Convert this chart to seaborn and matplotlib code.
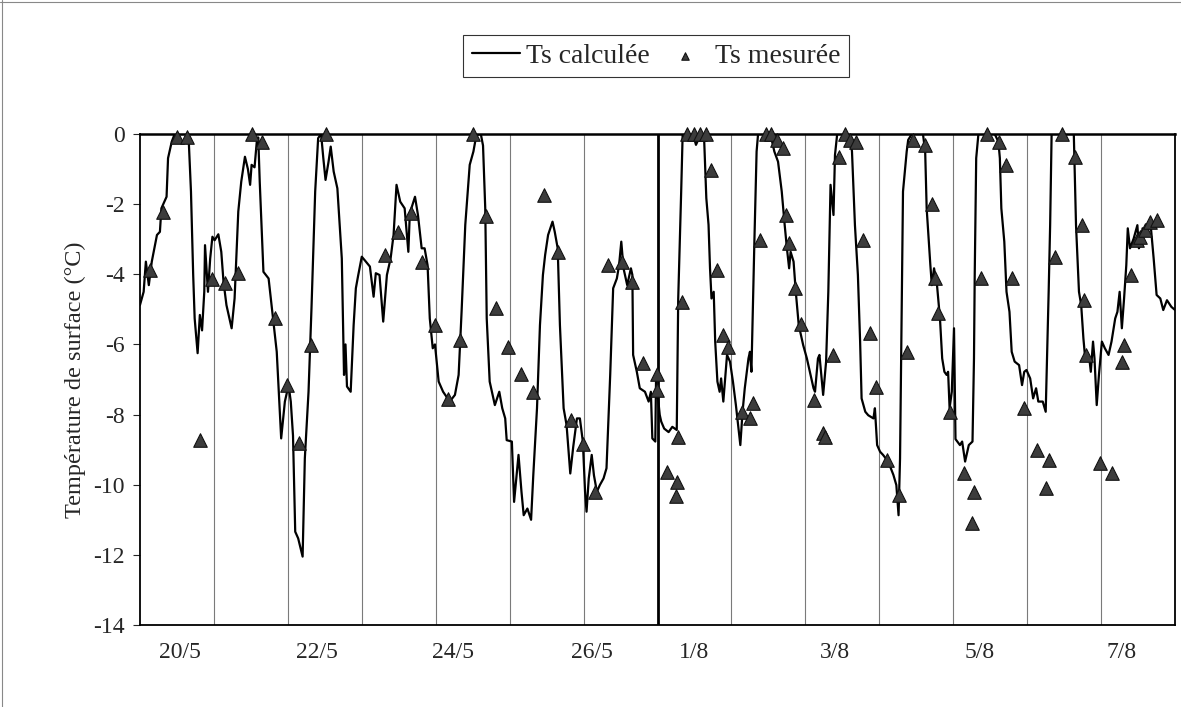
import numpy as np
import pandas as pd
import matplotlib.pyplot as plt
from matplotlib.lines import Line2D
import seaborn as sns

# ==========================
# Data - x in days from 20/5 00h, 1/8 starts at day 7
# ==========================
calc_day = [0.00, 0.05, 0.08, 0.12, 0.16, 0.23, 0.27, 0.29, 0.36, 0.38, 0.43, 0.47, 0.63, 0.66, 0.69,
            0.72, 0.74, 0.78, 0.81, 0.84, 0.87, 0.88, 0.92, 0.95, 0.98, 1.01, 1.06, 1.10, 1.13, 1.17,
            1.24, 1.28, 1.33, 1.37, 1.42, 1.46, 1.49, 1.51, 1.55, 1.58, 1.60, 1.62, 1.67, 1.74, 1.80,
            1.85, 1.91, 1.96, 2.01, 2.04, 2.07, 2.10, 2.14, 2.20, 2.23, 2.28, 2.32, 2.37, 2.41, 2.45,
            2.48, 2.51, 2.55, 2.58, 2.62, 2.67, 2.73, 2.76, 2.78, 2.80, 2.85, 2.87, 2.89, 2.92, 2.95,
            3.00, 3.04, 3.11, 3.16, 3.19, 3.24, 3.29, 3.34, 3.39, 3.43, 3.47, 3.52, 3.58, 3.63, 3.65,
            3.72, 3.76, 3.81, 3.85, 3.89, 3.92, 3.96, 3.99, 4.04, 4.10, 4.19, 4.26, 4.31, 4.35, 4.40,
            4.46, 4.51, 4.55, 4.61, 4.64, 4.67, 4.69, 4.73, 4.80, 4.86, 4.90, 4.94, 4.96, 5.03, 5.06,
            5.12, 5.16, 5.19, 5.24, 5.29, 5.32, 5.37, 5.41, 5.45, 5.48, 5.52, 5.58, 5.61, 5.65, 5.68,
            5.73, 5.77, 5.82, 5.86, 5.91, 5.95, 5.99, 6.02, 6.04, 6.07, 6.11, 6.14, 6.18, 6.22, 6.27,
            6.31, 6.36, 6.40, 6.45, 6.48, 6.51, 6.54, 6.59, 6.64, 6.66, 6.67, 6.72, 6.76, 6.83, 6.88,
            6.91, 6.93, 6.97, 6.98, 7.03, 7.05, 7.09, 7.15, 7.20, 7.26, 7.28, 7.32, 7.34, 7.48, 7.52,
            7.56, 7.63, 7.66, 7.69, 7.71, 7.73, 7.76, 7.78, 7.81, 7.84, 7.86, 7.89, 7.94, 7.98, 8.02,
            8.06, 8.12, 8.15, 8.18, 8.23, 8.25, 8.27, 8.31, 8.34, 8.36, 8.52, 8.55, 8.58, 8.63, 8.68,
            8.72, 8.75, 8.78, 8.80, 8.84, 8.87, 8.91, 8.94, 8.97, 9.02, 9.06, 9.11, 9.13, 9.17, 9.19,
            9.24, 9.28, 9.31, 9.34, 9.38, 9.40, 9.43, 9.60, 9.63, 9.67, 9.71, 9.74, 9.76, 9.81, 9.85,
            9.92, 9.94, 9.97, 10.01, 10.05, 10.12, 10.19, 10.23, 10.26, 10.28, 10.30, 10.32, 10.37, 10.39, 10.44,
            10.59, 10.62, 10.64, 10.69, 10.71, 10.74, 10.78, 10.82, 10.85, 10.88, 10.91, 10.93, 10.95, 10.98, 11.01,
            11.03, 11.09, 11.12, 11.16, 11.21, 11.26, 11.28, 11.29, 11.31, 11.34, 11.56, 11.61, 11.63, 11.65, 11.69,
            11.72, 11.76, 11.79, 11.83, 11.89, 11.93, 11.96, 11.99, 12.04, 12.08, 12.12, 12.15, 12.21, 12.25, 12.29,
            12.31, 12.33, 12.63, 12.64, 12.66, 12.70, 12.73, 12.76, 12.78, 12.84, 12.86, 12.89, 12.91, 12.94, 12.97,
            13.01, 13.05, 13.10, 13.14, 13.19, 13.22, 13.25, 13.28, 13.31, 13.34, 13.36, 13.39, 13.44, 13.49, 13.51,
            13.53, 13.56, 13.62, 13.67, 13.71, 13.75, 13.80, 13.84, 13.89, 13.95, 14.00]
calc_temp = [-4.88, -4.50, -3.64, -4.31, -3.64, -2.88, -2.79, -2.12, -1.79, -0.69, -0.22, 0.00, 0.00, -0.19, -1.64,
             -4.02, -5.26, -6.25, -5.16, -5.60, -4.50, -3.17, -4.50, -3.55, -2.93, -3.03, -2.86, -3.36, -4.21, -4.88,
             -5.54, -4.69, -2.21, -1.36, -0.65, -1.00, -1.45, -0.88, -0.95, -0.22, -0.10, -1.36, -3.93, -4.12, -5.26,
             -6.21, -8.68, -7.63, -7.16, -7.63, -8.60, -11.34, -11.53, -12.05, -9.25, -7.35, -4.97, -1.64, -0.12, 0.00,
             -0.69, -1.31, -0.80, -0.36, -1.07, -1.55, -3.55, -6.87, -6.00, -7.20, -7.35, -6.40, -5.45, -4.40, -4.05,
             -3.50, -3.60, -3.78, -4.64, -3.97, -4.02, -5.35, -4.02, -3.55, -2.88, -1.45, -1.93, -2.12, -3.36, -2.26,
             -1.79, -2.31, -3.26, -3.26, -3.74, -5.26, -6.11, -6.00, -7.06, -7.35, -7.63, -7.44, -6.87, -5.07, -2.59,
             -0.88, -0.50, -0.03, 0.00, -0.33, -2.12, -5.26, -7.06, -7.73, -7.35, -7.82, -8.11, -8.73, -8.77, -10.49,
             -9.15, -10.20, -10.87, -10.68, -11.00, -9.72, -7.82, -5.45, -4.02, -3.45, -2.88, -2.50, -2.79, -3.26, -5.45,
             -7.82, -8.30, -9.68, -8.92, -8.11, -8.11, -8.77, -10.20, -10.77, -9.82, -9.15, -9.73, -10.20, -10.01, -9.82,
             -9.53, -6.87, -4.40, -4.12, -3.74, -3.07, -3.83, -4.31, -3.83, -4.02, -6.30, -6.78, -7.25, -7.35, -7.63,
             -7.35, -8.68, -8.77, -6.97, -8.01, -8.20, -8.40, -8.50, -8.35, -8.44, -4.69, -1.64, 0.00, 0.00, -0.31,
             -0.12, -0.12, -1.83, -2.59, -3.83, -4.69, -4.50, -5.92, -7.06, -7.35, -6.97, -7.63, -6.30, -6.49, -7.06,
             -7.73, -8.87, -7.92, -7.25, -6.40, -6.21, -6.78, -3.07, -0.50, 0.00, 0.00, -0.22, -0.50, -0.79, -1.64,
             -2.60, -3.26, -3.83, -3.36, -3.64, -4.50, -5.45, -5.73, -6.02, -6.40, -6.78, -7.25, -7.35, -6.40, -6.30,
             -7.44, -6.49, -4.50, -1.45, -2.31, -0.60, 0.00, 0.00, -0.50, -2.60, -4.02, -5.92, -7.54, -7.92, -8.02,
             -8.11, -7.82, -8.87, -9.06, -9.15, -9.34, -9.72, -10.01, -10.87, -9.25, -5.45, -1.64, -0.50, -0.17, 0.00,
             0.00, -0.50, -2.12, -3.74, -4.31, -3.83, -4.31, -5.26, -6.40, -6.78, -6.87, -6.78, -7.82, -7.35, -5.54,
             -8.70, -8.87, -8.77, -9.34, -8.87, -8.77, -6.40, -4.02, -0.69, 0.00, 0.00, -0.22, -0.69, -2.12, -3.07,
             -4.50, -5.07, -6.21, -6.49, -6.59, -7.16, -6.78, -6.73, -6.97, -7.54, -7.25, -7.63, -7.63, -7.92, -4.50,
             -2.60, 0.00, 0.00, -0.88, -2.60, -4.50, -4.88, -5.83, -6.30, -6.40, -6.78, -5.92, -6.40, -7.73, -6.87,
             -5.92, -6.11, -6.30, -5.92, -5.26, -5.07, -4.50, -5.54, -4.69, -3.74, -2.69, -3.26, -2.98, -2.60, -3.26,
             -3.17, -2.69, -2.79, -2.60, -3.55, -4.59, -4.69, -5.02, -4.74, -4.93, -5.02]

mes_day = [0.14, 0.31, 0.50, 0.64, 0.81, 0.98, 1.15, 1.32, 1.52, 1.65, 1.82, 1.99, 2.15, 2.32, 2.52,
           3.32, 3.49, 3.66, 3.81, 3.99, 4.16, 4.33, 4.50, 4.68, 4.82, 4.98, 5.15, 5.31, 5.47, 5.66,
           5.83, 5.99, 6.15, 6.33, 6.52, 6.65, 6.81, 6.99, 6.99, 7.13, 7.27, 7.25, 7.28, 7.33, 7.40,
           7.49, 7.58, 7.65, 7.72, 7.80, 7.88, 7.95, 8.14, 8.25, 8.29, 8.38, 8.47, 8.54, 8.62, 8.70,
           8.74, 8.78, 8.86, 8.94, 9.11, 9.24, 9.26, 9.37, 9.45, 9.54, 9.60, 9.69, 9.78, 9.87, 9.96,
           10.11, 10.26, 10.37, 10.46, 10.62, 10.71, 10.75, 10.79, 10.96, 11.14, 11.28, 11.25, 11.38, 11.46, 11.62,
           11.71, 11.79, 11.96, 12.13, 12.30, 12.25, 12.38, 12.47, 12.64, 12.74, 12.77, 12.80, 12.99, 13.15, 13.31,
           13.28, 13.41, 13.48, 13.52, 13.59, 13.66, 13.75]
mes_temp = [-3.88, -2.23, -0.10, -0.10, -8.73, -4.13, -4.26, -3.95, 0.00, -0.22, -5.26, -7.16, -8.82, -6.02, 0.00,
            -3.45, -2.79, -2.26, -3.64, -5.45, -7.56, -5.87, 0.00, -2.33, -4.97, -6.06, -6.83, -7.35, -1.74, -3.36,
            -8.16, -8.85, -10.20, -3.74, -3.64, -4.21, -6.54, -6.83, -7.30, -9.63, -9.93, -10.31, -8.63, -4.78, 0.00,
            0.00, 0.00, 0.00, -1.03, -3.88, -5.73, -6.06, -7.92, -8.11, -7.68, -3.02, 0.00, 0.00, -0.17, -0.41,
            -2.31, -3.12, -4.40, -5.43, -7.59, -8.54, -8.64, -6.30, -0.65, 0.00, -0.17, -0.22, -3.02, -5.68, -7.21,
            -9.30, -10.30, -6.21, -0.17, -0.31, -2.00, -4.12, -5.11, -7.92, -9.68, -10.20, -11.10, -4.12, 0.00, -0.22,
            -0.88, -4.12, -7.82, -9.01, -9.30, -10.10, -3.50, 0.00, -0.65, -2.60, -4.73, -6.30, -9.39, -9.68, -6.02,
            -6.51, -4.02, -3.02, -2.93, -2.74, -2.50, -2.45]

tick_pos = [0.54, 2.40, 4.24, 6.11, 7.49, 9.40, 11.35, 13.27]
tick_labels = ["20/5", "22/5", "24/5", "26/5", "1/8", "3/8", "5/8", "7/8"]
y_ticks = [0, -2, -4, -6, -8, -10, -12, -14]

calc = pd.DataFrame({"day": calc_day, "Ts": calc_temp})
mes = pd.DataFrame({"day": mes_day, "Ts": mes_temp})

# ==========================
# Style
# ==========================
sns.set_style("white")
plt.rcParams['font.family'] = ['Liberation Serif', 'DejaVu Serif']
plt.rcParams['axes.unicode_minus'] = False

fig = plt.figure(figsize=(11.81, 7.07), dpi=100)
ax = fig.add_axes([0.1185, 0.116, 0.8765, 0.6945])

# day separators
for d in range(1, 14):
    if d == 7:
        ax.axvline(d, color="black", lw=2.0, zorder=1)
    else:
        ax.axvline(d, color="#7a7a7a", lw=0.8, zorder=1)

sns.lineplot(data=calc, x="day", y="Ts", sort=False, estimator=None, color="black",
             lw=1.6, label="Ts calculée", ax=ax, zorder=3)
sns.scatterplot(data=mes, x="day", y="Ts", marker="^", s=95, color="#3c3c3c",
                edgecolor="#111111", linewidth=0.8, label="Ts mesurée", ax=ax,
                zorder=4, clip_on=False)

ax.set_xlim(0, 14)
ax.set_ylim(-14, 0)
ax.set_yticks(y_ticks)
ax.set_yticklabels([str(v) for v in y_ticks])
ax.set_xticks(tick_pos)
ax.set_xticklabels(tick_labels)
ax.tick_params(axis="x", length=0, labelsize=17, pad=12)
ax.tick_params(axis="y", length=5, width=0.8, direction="out", labelsize=17, pad=6, left=True)
ax.set_xlabel("")
ax.set_ylabel("Température de surface (°C)", fontsize=17.5, labelpad=5)

for side in ["left", "bottom", "right"]:
    ax.spines[side].set_color("black")
    ax.spines[side].set_linewidth(1.3)
ax.spines["top"].set_color("black")
ax.spines["top"].set_linewidth(1.8)

leg = ax.legend(loc="center", bbox_to_anchor=(0.4986, 1.158), ncol=2, frameon=True,
                fancybox=False, edgecolor="black", fontsize=20, handlelength=1.75,
                columnspacing=0.4, handletextpad=0.2, borderpad=0.3, markerscale=0.55)
leg.get_frame().set_linewidth(0.8)

# scanned page border
fig.add_artist(Line2D([0, 1], [0.997, 0.997], transform=fig.transFigure, color="#888888", lw=0.8))
fig.add_artist(Line2D([0.002, 0.002], [0, 1], transform=fig.transFigure, color="#888888", lw=0.8))

fig.savefig("out.png", dpi=100)
plt.close(fig)
